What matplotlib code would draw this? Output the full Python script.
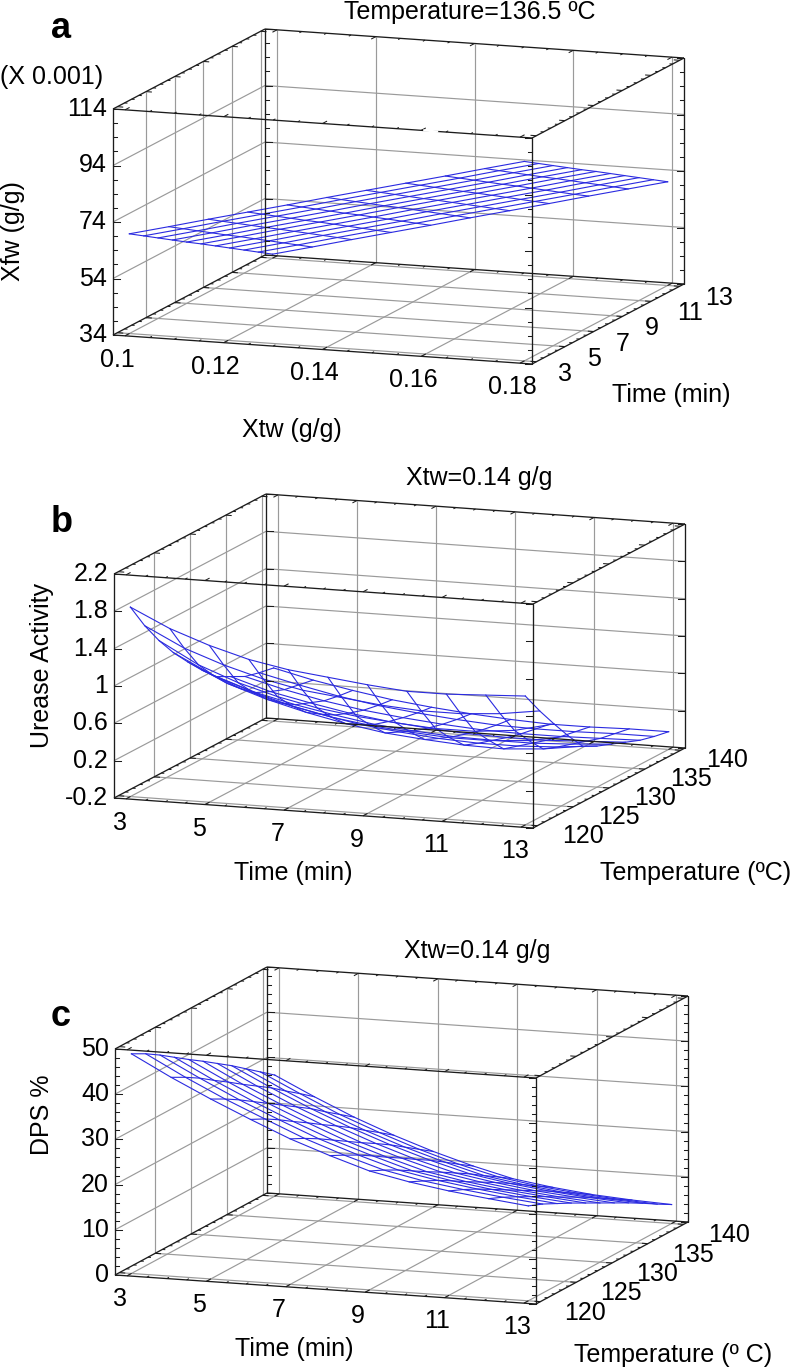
import matplotlib
matplotlib.use('Agg')
import matplotlib.pyplot as plt
import numpy as np

plt.rcParams['font.family'] = ['Liberation Sans', 'DejaVu Sans']

# panel a
xtw_ticks = [0.1, 0.12, 0.14, 0.16, 0.18]
time_a_ticks = [3, 5, 7, 9, 11, 13]
xfw_ticks = [34, 54, 74, 94, 114]
xtw_grid = [0.1, 0.108, 0.116, 0.124, 0.132, 0.14, 0.148, 0.156, 0.164, 0.172, 0.18]
time_grid = [3, 4, 5, 6, 7, 8, 9, 10, 11, 12, 13]
xfw_values = [
    [69.3, 72.8, 76.4, 79.9, 83.4, 87.0, 90.5, 94.0, 97.5, 101.1, 104.6],
    [65.9, 69.4, 73.0, 76.5, 80.0, 83.6, 87.1, 90.6, 94.1, 97.7, 101.2],
    [62.5, 66.0, 69.6, 73.1, 76.6, 80.2, 83.7, 87.2, 90.7, 94.3, 97.8],
    [59.1, 62.6, 66.2, 69.7, 73.2, 76.8, 80.3, 83.8, 87.3, 90.9, 94.4],
    [55.7, 59.2, 62.8, 66.3, 69.8, 73.4, 76.9, 80.4, 83.9, 87.5, 91.0],
    [52.4, 55.9, 59.5, 63.0, 66.5, 70.1, 73.6, 77.1, 80.6, 84.2, 87.7],
    [49.0, 52.5, 56.1, 59.6, 63.1, 66.7, 70.2, 73.7, 77.2, 80.8, 84.3],
    [45.6, 49.1, 52.7, 56.2, 59.7, 63.3, 66.8, 70.3, 73.8, 77.4, 80.9],
    [42.2, 45.7, 49.3, 52.8, 56.3, 59.9, 63.4, 66.9, 70.4, 74.0, 77.5],
    [38.8, 42.3, 45.9, 49.4, 52.9, 56.5, 60.0, 63.5, 67.0, 70.6, 74.1],
    [35.4, 38.9, 42.5, 46.0, 49.5, 53.1, 56.6, 60.1, 63.7, 67.2, 70.7],
]

# panel b
time_ticks = [3, 5, 7, 9, 11, 13]
temp_ticks = [120, 125, 130, 135, 140]
urease_ticks = [-0.2, 0.2, 0.6, 1, 1.4, 1.8, 2.2]
urease_labels = ['-0.2', '0.2', '0.6', '1', '1.4', '1.8', '2.2']
temp_grid = [120, 122, 124, 126, 128, 130, 132, 134, 136, 138, 140]
urease_values = [
    [1.83, 1.63, 1.48, 1.36, 1.28, 1.23, 1.18, 1.14, 1.14, 1.16, 1.18],
    [1.55, 1.34, 1.19, 1.07, 0.98, 0.93, 0.88, 0.85, 0.85, 0.88, 0.94],
    [1.31, 1.08, 0.92, 0.80, 0.71, 0.65, 0.61, 0.58, 0.58, 0.62, 0.72],
    [1.10, 0.89, 0.74, 0.62, 0.53, 0.47, 0.43, 0.40, 0.40, 0.43, 0.51],
    [0.92, 0.72, 0.58, 0.47, 0.38, 0.31, 0.27, 0.24, 0.23, 0.26, 0.32],
    [0.75, 0.58, 0.46, 0.37, 0.29, 0.24, 0.20, 0.18, 0.18, 0.20, 0.24],
    [0.60, 0.46, 0.36, 0.28, 0.21, 0.17, 0.14, 0.13, 0.13, 0.15, 0.18],
    [0.52, 0.39, 0.30, 0.22, 0.16, 0.12, 0.09, 0.08, 0.08, 0.10, 0.12],
    [0.44, 0.33, 0.24, 0.17, 0.12, 0.08, 0.05, 0.04, 0.04, 0.05, 0.06],
    [0.40, 0.30, 0.21, 0.14, 0.09, 0.05, 0.02, 0.01, 0.01, 0.02, 0.02],
    [0.37, 0.27, 0.19, 0.12, 0.07, 0.03, 0.00, -0.02, -0.02, -0.01, -0.01],
]

# panel c
dps_ticks = [0, 10, 20, 30, 40, 50]
dps_values = [
    [48.6, 44.0, 39.8, 35.9, 32.2, 29.1, 26.3, 24.5, 23.1, 22.0, 21.0],
    [46.9, 42.3, 38.1, 34.3, 30.6, 27.5, 24.8, 23.0, 21.7, 20.6, 19.7],
    [44.9, 40.4, 36.2, 32.4, 28.8, 25.8, 23.1, 21.4, 20.1, 19.0, 18.1],
    [42.7, 38.2, 34.1, 30.3, 26.8, 23.9, 21.2, 19.6, 18.3, 17.3, 16.5],
    [40.5, 36.1, 32.0, 28.3, 24.8, 21.9, 19.3, 17.7, 16.5, 15.6, 14.8],
    [38.4, 33.9, 29.9, 26.2, 22.8, 20.0, 17.5, 15.9, 14.7, 13.8, 13.1],
    [36.2, 31.8, 27.8, 24.2, 20.9, 18.0, 15.6, 14.1, 12.9, 12.1, 11.4],
    [34.0, 29.7, 25.7, 22.1, 18.9, 16.1, 13.7, 12.2, 11.1, 10.3, 9.7],
    [31.6, 27.3, 23.3, 19.8, 16.7, 14.0, 11.6, 10.2, 9.1, 8.4, 7.9],
    [29.2, 25.0, 21.0, 17.6, 14.5, 11.8, 9.6, 8.2, 7.2, 6.5, 6.0],
    [26.8, 22.6, 18.7, 15.3, 12.3, 9.7, 7.5, 6.2, 5.2, 4.6, 4.2],
]

BLUE = '#2a2ae0'
GRID = '#9a9a9a'
EDGE = '#1c1c1c'
FS = 18
PAD = 0.0304

fig = plt.figure(figsize=(7.93, 13.69), dpi=100)
ax = fig.add_axes([0, 0, 1, 1])
ax.set_xlim(0, 793)
ax.set_ylim(1369, 0)
ax.axis('off')


def panel(origin, ex, ey, ez, xt, yt, zt, zlabels, xgrid, ygrid, surf, xoff, yoff,
          x_minor=4, y_minor=4, z_minor=1):
    xt, yt, zt = map(np.array, (xt, yt, zt))
    xlo, xhi = xt[0] - PAD * (xt[-1] - xt[0]), xt[-1] + PAD * (xt[-1] - xt[0])
    ylo, yhi = yt[0] - PAD * (yt[-1] - yt[0]), yt[-1] + PAD * (yt[-1] - yt[0])
    zlo, zhi = zt[0], zt[-1]

    def pr(x, y, z):
        fx = (np.asarray(x, float) - xlo) / (xhi - xlo)
        fy = (np.asarray(y, float) - ylo) / (yhi - ylo)
        fz = (np.asarray(z, float) - zlo) / (zhi - zlo)
        return (origin[0] + ex[0] * fx + ey[0] * fy,
                origin[1] + ex[1] * fx + ey[1] * fy + ez * fz)

    def seg(a, b, **kw):
        sx0, sy0 = pr(*a)
        sx1, sy1 = pr(*b)
        ax.plot([sx0, sx1], [sy0, sy1], solid_capstyle='butt', **kw)

    # walls and floor
    g = dict(color=GRID, lw=0.85, zorder=1)
    for x in xt:
        seg((x, yhi, zlo), (x, yhi, zhi), **g)
        seg((x, ylo, zlo), (x, yhi, zlo), **g)
    for y in yt:
        if y != yt[0]:
            seg((xlo, y, zlo), (xlo, y, zhi), **g)
        seg((xlo, y, zlo), (xhi, y, zlo), **g)
    for z in zt[1:-1]:
        seg((xlo, ylo, z), (xlo, yhi, z), **g)
        seg((xlo, yhi, z), (xhi, yhi, z), **g)

    # wireframe
    surf = np.array(surf)
    xgrid = np.array(xgrid)
    ygrid = np.array(ygrid)
    for j, y in enumerate(ygrid):
        sx, sy = pr(xgrid, y, surf[j])
        ax.plot(sx, sy, color=BLUE, lw=0.8, zorder=2)
    for i, x in enumerate(xgrid):
        sx, sy = pr(x, ygrid, surf[:, i])
        ax.plot(sx, sy, color=BLUE, lw=0.8, zorder=2)

    # box
    e = dict(color=EDGE, lw=0.95, zorder=3)
    for z in (zlo, zhi):
        seg((xlo, ylo, z), (xhi, ylo, z), **e)
        seg((xlo, yhi, z), (xhi, yhi, z), **e)
        seg((xlo, ylo, z), (xlo, yhi, z), **e)
        seg((xhi, ylo, z), (xhi, yhi, z), **e)
    for x, y in ((xlo, ylo), (xlo, yhi), (xhi, ylo), (xhi, yhi)):
        seg((x, y, zlo), (x, y, zhi), **e)

    # ticks on every edge
    t = dict(color=EDGE, lw=0.75, zorder=3)
    zstep = (zt[1] - zt[0]) / z_minor
    for k in range((len(zt) - 1) * z_minor + 1):
        z = zlo + k * zstep
        major = k % z_minor == 0
        ln = 7 if major else 4
        for x, y, s in ((xlo, ylo, 1), (xlo, yhi, 1), (xhi, ylo, -1), (xhi, yhi, -1)):
            sx, sy = pr(x, y, z)
            ax.plot([sx, sx + s * ln], [sy, sy], **t)
    xstep = (xt[1] - xt[0]) / x_minor
    for k in range((len(xt) - 1) * x_minor + 1):
        x = xt[0] + k * xstep
        ln = 0.03 if k % x_minor == 0 else 0.015
        for z in (zlo, zhi):
            seg((x, ylo, z), (x, ylo + ln * (yhi - ylo), z), **t)
            seg((x, yhi, z), (x, yhi - ln * (yhi - ylo), z), **t)
    ystep = (yt[1] - yt[0]) / y_minor
    for k in range((len(yt) - 1) * y_minor + 1):
        y = yt[0] + k * ystep
        ln = 0.014 if k % y_minor == 0 else 0.007
        for z in (zlo, zhi):
            seg((xlo, y, z), (xlo + ln * (xhi - xlo), y, z), **t)
            seg((xhi, y, z), (xhi - ln * (xhi - xlo), y, z), **t)

    # tick labels
    for x in xt:
        sx, sy = pr(x, ylo, zlo)
        ax.text(sx + xoff[0], sy + xoff[1], f'{x:g}', fontsize=FS, ha='center', va='center')
    for y in yt:
        sx, sy = pr(xhi, y, zlo)
        lab = f'{y:g}'
        dx = yoff[0] + (len(lab) - 1) * yoff[2]
        ax.text(sx + dx, sy + yoff[1], lab, fontsize=FS, ha='center', va='center')
    for z, lab in zip(zt, zlabels):
        sx, sy = pr(xlo, ylo, z)
        ax.text(sx - 6, sy, lab, fontsize=FS, ha='right', va='center')
    return pr


pr_a = panel((113, 335), (419, 29), (152, -80), -226, xtw_ticks, time_a_ticks, xfw_ticks,
             [str(v) for v in xfw_ticks], xtw_grid, time_grid, xfw_values,
             (-8, 24), (29, 12, 10), z_minor=4)
panel((114, 798), (419, 30), (152, -80), -224, time_ticks, temp_ticks, urease_ticks,
      urease_labels, time_grid, temp_grid, urease_values,
      (-6, 24), (46, 10, 0), y_minor=5)
panel((115, 1275), (421, 29), (152, -82), -226, time_ticks, temp_ticks, dps_ticks,
      [str(v) for v in dps_ticks], time_grid, temp_grid, dps_values,
      (-7, 23.5), (45, 11, 0), y_minor=5, z_minor=5)

# break in the top front edge of panel a
gx, gy = pr_a(np.array([0.1606, 0.1632]), 2.7, 114)
ax.plot(gx, gy, color='white', lw=1.6, zorder=4)

# titles, axis names and panel letters
ax.text(470, 19, 'Temperature=136.5 ºC', fontsize=FS, ha='center', va='baseline')
for x, y, s in [(479, 478, 'Xtw=0.14 g/g'), (477, 951, 'Xtw=0.14 g/g'),
                (292, 430, 'Xtw (g/g)'), (671, 395, 'Time (min)'),
                (293, 873, 'Time (min)'), (696, 873, 'Temperature (ºC)'),
                (294, 1349, 'Time (min)'), (673, 1355, 'Temperature (º C)')]:
    ax.text(x, y, s, fontsize=FS, ha='center', va='center')
ax.text(52, 77, '(X 0.001)', fontsize=FS, ha='center', va='center')
ax.text(13, 231, 'Xfw (g/g)', fontsize=FS, rotation=90, ha='center', va='center')
ax.text(42, 666, 'Urease Activity', fontsize=FS, rotation=90, ha='center', va='center')
ax.text(42, 1115, 'DPS %', fontsize=FS, rotation=90, ha='center', va='center')
for x, y, s in [(61, 28, 'a'), (62, 522, 'b'), (61, 1016, 'c')]:
    ax.text(x, y, s, fontsize=26, fontweight='bold', ha='center', va='center')

fig.savefig('out.png', dpi=100)
